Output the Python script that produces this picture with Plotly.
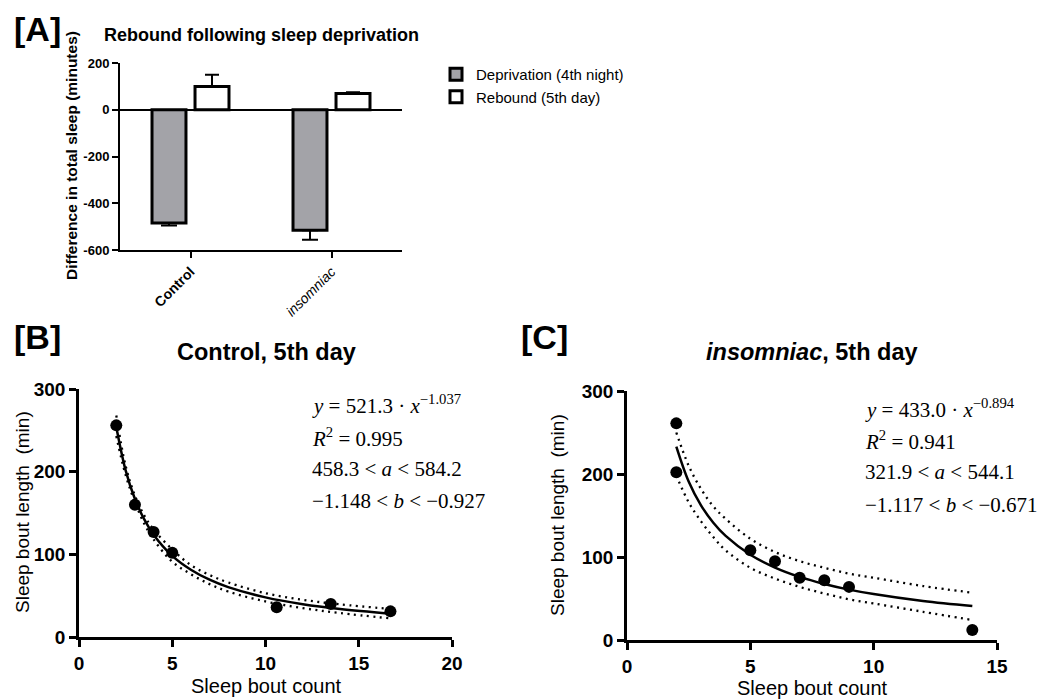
import plotly.graph_objects as go

W, H = 1053, 700
OFF = 8  # page body margin offset
SANS = "Liberation Sans, Arial, sans-serif"
SERIF = "Liberation Serif, Times New Roman, serif"

# ---------------- Panel A data ----------------
a_categories = ["Control", "insomniac"]
a_tick_text = ["<b>Control</b>", "<i>insomniac</i>"]
a_deprivation = [-485, -516]
a_deprivation_err = [10, 40]
a_rebound = [100, 69]
a_rebound_err = [50, 6]
a_series_names = ["Deprivation (4th night)", "Rebound (5th day)"]
a_yticks = [200, 0, -200, -400, -600]
a_yticktext = ["200", "0", "-200", "-400", "-600"]

# ---------------- Panel B data ----------------
b_count = [2, 3, 4, 5, 10.6, 13.5, 16.7]
b_length = [256, 160, 127, 102, 36, 40, 31]
b_curve_x = [2, 2.5, 3, 3.5, 4, 5, 6, 7, 8, 10, 12, 14, 16.7]
b_fit = [254.1, 201.6, 166.9, 142.2, 123.8, 98.2, 81.4, 69.3, 60.3, 47.9, 39.6, 33.8, 28.2]
b_upper = [268, 207, 171, 147, 130, 106, 87, 75, 66, 53, 45, 39.5, 34]
b_lower = [243, 196, 163, 137, 118, 91, 76, 64, 55, 43, 35, 29, 22.5]
b_eq = ["<i>y</i> = 521.3 · <i>x</i><sup>−1.037</sup>",
        "<i>R</i><sup>2</sup> = 0.995",
        "458.3 &lt; <i>a</i> &lt; 584.2",
        "−1.148 &lt; <i>b</i> &lt; −0.927"]

# ---------------- Panel C data ----------------
c_count = [2, 2, 5, 6, 7, 8, 9, 14]
c_length = [261, 202, 108, 95, 75, 72, 64, 12]
c_curve_x = [2, 2.5, 3, 3.5, 4, 5, 6, 7, 8, 9, 10, 12, 14]
c_fit = [233.0, 190.9, 162.2, 141.3, 125.4, 102.7, 87.3, 76.0, 67.5, 60.7, 55.3, 46.9, 40.9]
c_upper = [250, 210, 182, 161, 146, 122, 106, 95, 87, 80, 75, 65, 57]
c_lower = [198, 166, 143, 124, 108, 87, 74, 64, 56, 49, 44, 34, 24]
c_eq = ["<i>y</i> = 433.0 · <i>x</i><sup>−0.894</sup>",
        "<i>R</i><sup>2</sup> = 0.941",
        "321.9 &lt; <i>a</i> &lt; 544.1",
        "−1.117 &lt; <i>b</i> &lt; −0.671"]


def px_x(p):
    return (p - OFF) / W


def px_y(p):
    return 1 - (p - OFF) / H


fig = go.Figure()

# ---- Panel A bars ----
fig.add_trace(go.Bar(
    x=a_categories, y=a_deprivation, name=a_series_names[0],
    marker=dict(color="#a3a3a8", line=dict(color="black", width=3)),
    error_y=dict(type="data", symmetric=False, array=[0, 0], arrayminus=a_deprivation_err,
                 color="black", thickness=2, width=8),
    xaxis="x", yaxis="y"))
fig.add_trace(go.Bar(
    x=a_categories, y=a_rebound, name=a_series_names[1],
    marker=dict(color="white", line=dict(color="black", width=3)),
    error_y=dict(type="data", symmetric=False, array=a_rebound_err, arrayminus=[0, 0],
                 color="black", thickness=2, width=7),
    xaxis="x", yaxis="y"))

dot_style = dict(color="black", width=2.3, dash="2px,4.5px")

# ---- Panel B ----
fig.add_trace(go.Scatter(x=b_curve_x, y=b_upper, mode="lines", line=dot_style,
                         line_shape="spline", showlegend=False, xaxis="x2", yaxis="y2"))
fig.add_trace(go.Scatter(x=b_curve_x, y=b_lower, mode="lines", line=dot_style,
                         line_shape="spline", showlegend=False, xaxis="x2", yaxis="y2"))
fig.add_trace(go.Scatter(x=b_curve_x, y=b_fit, mode="lines",
                         line=dict(color="black", width=2.5), line_shape="spline",
                         showlegend=False, xaxis="x2", yaxis="y2"))
fig.add_trace(go.Scatter(x=b_count, y=b_length, mode="markers",
                         marker=dict(color="black", size=12), showlegend=False,
                         xaxis="x2", yaxis="y2"))

# ---- Panel C ----
fig.add_trace(go.Scatter(x=c_curve_x, y=c_upper, mode="lines", line=dot_style,
                         line_shape="spline", showlegend=False, xaxis="x3", yaxis="y3"))
fig.add_trace(go.Scatter(x=c_curve_x, y=c_lower, mode="lines", line=dot_style,
                         line_shape="spline", showlegend=False, xaxis="x3", yaxis="y3"))
fig.add_trace(go.Scatter(x=c_curve_x, y=c_fit, mode="lines",
                         line=dict(color="black", width=2.5), line_shape="spline",
                         showlegend=False, xaxis="x3", yaxis="y3"))
fig.add_trace(go.Scatter(x=c_count, y=c_length, mode="markers",
                         marker=dict(color="black", size=12), showlegend=False,
                         xaxis="x3", yaxis="y3"))

axis_common = dict(showgrid=False, showline=True, linecolor="black", ticks="outside",
                   tickcolor="black", zeroline=False, fixedrange=True, automargin=False)

fig.update_layout(
    width=W, height=H, autosize=False,
    margin=dict(l=0, r=0, t=0, b=0, pad=0, autoexpand=False),
    paper_bgcolor="white", plot_bgcolor="white",
    font=dict(family=SANS, color="black"),
    barmode="group", bargap=0.39, bargroupgap=0.21,
    legend=dict(x=px_x(436), y=px_y(58), xanchor="left", yanchor="top",
                font=dict(size=15, family=SANS), bgcolor="rgba(0,0,0,0)",
                tracegroupgap=0, itemwidth=30),
    # Panel A axes
    xaxis=dict(axis_common, domain=[px_x(120), px_x(402)], anchor="y",
               tickvals=a_categories, ticktext=a_tick_text, tickangle=-45,
               tickfont=dict(size=14), linewidth=2, tickwidth=2, ticklen=6,
               range=[-0.5, 1.5]),
    yaxis=dict(axis_common, domain=[px_y(250), px_y(63)], anchor="x",
               range=[-600, 200], tickvals=a_yticks, ticktext=a_yticktext,
               tickfont=dict(size=13, weight="bold"), linewidth=2, tickwidth=2, ticklen=6,
               zeroline=True, zerolinecolor="black", zerolinewidth=2),
    # Panel B axes
    xaxis2=dict(axis_common, domain=[px_x(79), px_x(452)], anchor="y2",
                range=[0, 20], tickvals=[0, 5, 10, 15, 20],
                tickfont=dict(size=19, weight="bold"), linewidth=2.5, tickwidth=2.5, ticklen=7),
    yaxis2=dict(axis_common, domain=[px_y(637), px_y(389)], anchor="x2",
                range=[0, 300], tickvals=[0, 100, 200, 300],
                tickfont=dict(size=19, weight="bold"), linewidth=2.5, tickwidth=2.5, ticklen=7),
    # Panel C axes
    xaxis3=dict(axis_common, domain=[px_x(627), px_x(997)], anchor="y3",
                range=[0, 15], tickvals=[0, 5, 10, 15],
                tickfont=dict(size=19, weight="bold"), linewidth=2.5, tickwidth=2.5, ticklen=7),
    yaxis3=dict(axis_common, domain=[px_y(640), px_y(391)], anchor="x3",
                range=[0, 300], tickvals=[0, 100, 200, 300],
                tickfont=dict(size=19, weight="bold"), linewidth=2.5, tickwidth=2.5, ticklen=7),
)

ann = []


def add_text(text, x, y, size, xanchor="center", yanchor="middle", angle=0,
             family=SANS, weight="normal"):
    ann.append(dict(text=text, x=px_x(x), y=px_y(y), xref="paper", yref="paper",
                    xanchor=xanchor, yanchor=yanchor, textangle=angle, showarrow=False,
                    borderpad=0,
                    font=dict(size=size, family=family, color="black", weight=weight)))


# Panel labels
add_text("[A]", 13, 29, 34, xanchor="left", weight="bold")
add_text("[B]", 13, 337, 34, xanchor="left", weight="bold")
add_text("[C]", 520, 337, 34, xanchor="left", weight="bold")

# Panel titles
add_text("Rebound following sleep deprivation", 261, 35, 18, weight="bold")
add_text("Control, 5th day", 266, 352, 23.5, weight="bold")
add_text("<i>insomniac</i>, 5th day", 812, 352, 23.5, weight="bold")

# Axis titles
add_text("Difference in total sleep (minutes)", 71, 156, 15.5, angle=-90, weight="bold")
add_text("Sleep bout length  (min)", 22, 512, 19, angle=-90)
add_text("Sleep bout count", 266, 686, 20)
add_text("Sleep bout length  (min)", 557, 515, 19, angle=-90)
add_text("Sleep bout count", 812, 688, 20)

# Equations
for t, yy in zip(b_eq, [404, 437, 469, 501]):
    add_text(t, 311, yy, 21, xanchor="left", family=SERIF)
for t, yy in zip(c_eq, [408, 440, 472, 505]):
    add_text(t, 864, yy, 21, xanchor="left", family=SERIF)

fig.update_layout(annotations=ann)

fig.write_html("out.html")
